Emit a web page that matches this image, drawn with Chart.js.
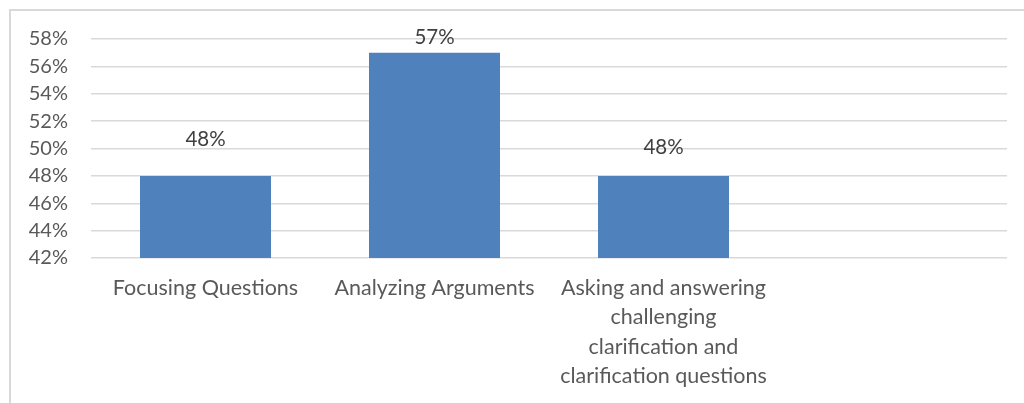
<!DOCTYPE html>
<html lang="en">
<head>
<meta charset="UTF-8">
<title>Critical thinking skills</title>
<script src="https://cdn.jsdelivr.net/npm/chart.js"></script>
<style>
    body {
        margin: 0;
        background: #fff;
        overflow: hidden;
    }
    #frame {
        position: absolute;
        left: 9px;
        top: 9px;
        width: 1100px;
        height: 500px;
        border: 2px solid #d9d9d9;
    }
    #wrap {
        position: absolute;
        left: 0;
        top: 0;
        width: 1024px;
        height: 403px;
    }
</style>
</head>
<body>
<div id="frame"></div>
<div id="wrap"><canvas id="chart"></canvas></div>
<script>
const categories = [
    'Focusing Questions',
    'Analyzing Arguments',
    ['Asking and answering', 'challenging', 'clarification and', 'clarification questions'],
    ''
];
const values = [48, 57, 48, null];
const yMin = 42;
const yMax = 58;
const yStep = 2;

const FONT = 'Lato, "Open Sans", sans-serif';

// labels were nudged by hand in the original, so each has its own lift
const labelLift = [29, 8, 21, 0];

const valueLabels = {
    id: 'valueLabels',
    afterDatasetsDraw(chart) {
        const ctx = chart.ctx;
        const meta = chart.getDatasetMeta(0);
        ctx.save();
        ctx.font = '20.5px ' + FONT;
        ctx.fillStyle = '#404040';
        ctx.textAlign = 'center';
        ctx.textBaseline = 'bottom';
        meta.data.forEach((bar, i) => {
            if (values[i] == null) return;
            ctx.fillText(values[i] + '%', bar.x, bar.y - labelLift[i] + 3);
        });
        ctx.restore();
    }
};

new Chart(document.getElementById('chart'), {
    type: 'bar',
    data: {
        labels: categories,
        datasets: [{
            data: values,
            backgroundColor: '#4f81bd',
            borderWidth: 0,
            categoryPercentage: 1,
            barPercentage: 0.572
        }]
    },
    options: {
        responsive: true,
        maintainAspectRatio: false,
        animation: false,
        layout: { padding: { top: 39, right: 17, left: 0, bottom: 0 } },
        plugins: {
            legend: { display: false },
            tooltip: { enabled: false }
        },
        scales: {
            x: {
                grid: { display: false, drawTicks: false },
                border: { display: false },
                ticks: {
                    color: '#595959',
                    font: { family: FONT, size: 21.5, lineHeight: 1.35 },
                    padding: 16,
                    maxRotation: 0,
                    autoSkip: false
                },
                afterFit(scale) { scale.height = 145; }
            },
            y: {
                min: yMin,
                max: yMax,
                grid: { color: '#d9d9d9', lineWidth: 1.5, drawTicks: false },
                border: { display: false },
                ticks: {
                    stepSize: yStep,
                    color: '#595959',
                    font: { family: FONT, size: 20 },
                    padding: 23,
                    callback: v => v + '%'
                },
                afterFit(scale) { scale.width = 91; }
            }
        }
    },
    plugins: [valueLabels]
});
</script>
</body>
</html>
